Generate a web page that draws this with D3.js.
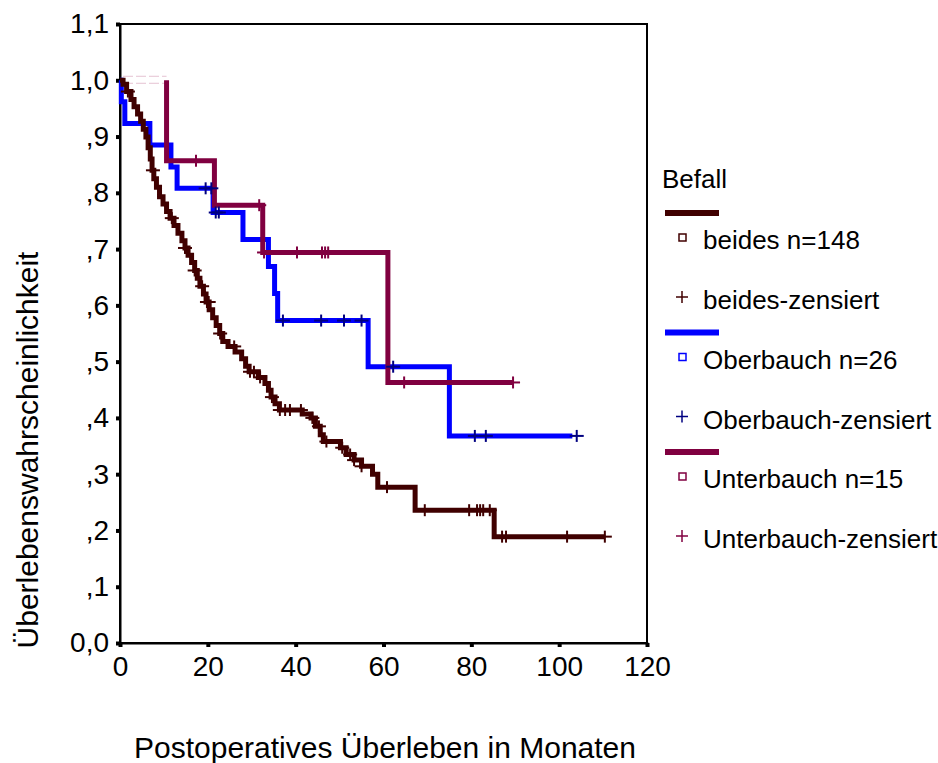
<!DOCTYPE html>
<html>
<head>
<meta charset="utf-8">
<script src="https://cdn.jsdelivr.net/npm/d3@7"></script>
<style>
  body { margin: 0; background: #fff; }
  svg text { font-family: Arial, "Liberation Sans", sans-serif; fill: #000; }
</style>
</head>
<body>
<div id="chart"></div>
<script>
// Kaplan-Meier steps (months, survival)
var beidesTime = [0, 0.7, 1.5, 2.5, 3.2, 4.0, 4.7, 5.3, 5.9, 6.4, 6.9, 7.3, 7.7, 8.3, 9.0, 9.8, 10.6, 11.4, 12.3, 13.2, 14.1, 14.8, 15.5, 16.3, 17.0, 17.6, 18.2, 19.0, 19.6, 20.3, 21.1, 21.9, 22.7, 23.4, 24.6, 26.2, 27.7, 28.6, 29.4, 31.5, 33.0, 33.8, 34.4, 35.3, 36.3, 41.5, 43.5, 44.5, 45.6, 46.3, 50.2, 51.5, 53.3, 55.0, 57.5, 58.7, 67.2, 85.2, 110.5]
var beidesSurv = [1, 0.993, 0.98, 0.966, 0.953, 0.94, 0.927, 0.913, 0.899, 0.88, 0.86, 0.84, 0.825, 0.81, 0.793, 0.78, 0.767, 0.755, 0.742, 0.728, 0.715, 0.702, 0.689, 0.676, 0.662, 0.648, 0.634, 0.62, 0.606, 0.592, 0.578, 0.564, 0.55, 0.536, 0.527, 0.517, 0.505, 0.492, 0.482, 0.472, 0.461, 0.449, 0.437, 0.425, 0.414, 0.407, 0.4, 0.385, 0.37, 0.358, 0.347, 0.335, 0.325, 0.314, 0.3, 0.277, 0.236, 0.189, 0.189]
var beidesCens = [1.8, 7.5, 11.8, 14.8, 17, 18.7, 19.8, 20.2, 22.8, 26, 29.6, 30.5, 31.9, 34.6, 36.4, 37.6, 38.7, 41.2, 43.8, 45.3, 47.0, 50.6, 52.4, 53.3, 55.0, 60.8, 69.4, 79.5, 81.3, 82.0, 82.7, 84.2, 87.0, 87.9, 101.8, 110.4]

var oberTime = [0, 0.3, 1.1, 6.8, 11.6, 13.0, 21.2, 28.0, 33.8, 35.2, 35.9, 56.5, 75.0, 103]
var oberSurv = [1, 0.962, 0.923, 0.885, 0.846, 0.808, 0.765, 0.717, 0.669, 0.621, 0.573, 0.491, 0.368, 0.368]
var oberCens = [19.5, 20.8, 21.8, 22.5, 37.1, 45.8, 51.0, 55.0, 62.2, 80.8, 83.3, 104]

var unterTime = [0, 10.6, 21.5, 32.5, 61.0, 89.5]
var unterSurv = [1, 0.857, 0.778, 0.694, 0.463, 0.463]
var unterCens = [17.3, 31.7, 32.8, 40.3, 46.0, 46.7, 47.4, 64.7, 89.5]

var xTicks = [0, 20, 40, 60, 80, 100, 120]
var yTicks = [0, 0.1, 0.2, 0.3, 0.4, 0.5, 0.6, 0.7, 0.8, 0.9, 1.0, 1.1]
var yTickLabels = ["0,0", ",1", ",2", ",3", ",4", ",5", ",6", ",7", ",8", ",9", "1,0", "1,1"]

var legendTitle = "Befall"
var legendLabels = ["beides n=148", "beides-zensiert", "Oberbauch n=26", "Oberbauch-zensiert", "Unterbauch n=15", "Unterbauch-zensiert"]

var width = 938, height = 763

var svg = d3.select("#chart").append("svg")
    .attr("width", width)
    .attr("height", height)

var x = d3.scaleLinear().domain([0, 120]).range([120, 647])
var y = d3.scaleLinear().domain([0, 1.1]).range([643, 24])

// frame
svg.append("rect")
    .attr("x", x(0)).attr("y", y(1.1))
    .attr("width", x(120) - x(0)).attr("height", y(0) - y(1.1))
    .attr("fill", "none").attr("stroke", "#000").attr("stroke-width", 2)

var yAxis = d3.axisLeft(y)
    .tickValues(yTicks)
    .tickFormat((d, i) => yTickLabels[i])
    .tickSize(4).tickPadding(7)
var xAxis = d3.axisBottom(x)
    .tickValues(xTicks)
    .tickSize(4).tickPadding(9)

var gy = svg.append("g").attr("transform", "translate(" + x(0) + ",0)").call(yAxis)
var gx = svg.append("g").attr("transform", "translate(0," + y(0) + ")").call(xAxis)
;[gx, gy].forEach(g => {
    g.select(".domain").attr("stroke-width", 2)
    g.selectAll(".tick line").attr("stroke-width", 4)
    g.selectAll(".tick text").style("font-size", "28px")
})

svg.append("text")
    .attr("x", 385).attr("y", 758)
    .attr("text-anchor", "middle")
    .style("font-size", "30px")
    .text("Postoperatives Überleben in Monaten")

svg.append("text")
    .attr("transform", "translate(38,450) rotate(-90)")
    .attr("text-anchor", "middle")
    .style("font-size", "30px")
    .text("Überlebenswahrscheinlichkeit")

function toPoints(times, surv) {
    return times.map((t, i) => ({ t: t, s: surv[i] }))
}
function survAt(times, surv, t) {
    var s = surv[0]
    for (var i = 0; i < times.length; i++) { if (times[i] <= t) s = surv[i] }
    return s
}

var step = d3.line()
    .x(d => x(d.t)).y(d => y(d.s))
    .curve(d3.curveStepAfter)

var series = [
    { name: "ober", times: oberTime, surv: oberSurv, cens: oberCens, color: "#0000ff", mark: "#000080" },
    { name: "beides", times: beidesTime, surv: beidesSurv, cens: beidesCens, color: "#400000", mark: "#400000" },
    { name: "unter", times: unterTime, surv: unterSurv, cens: unterCens, color: "#800040", mark: "#800040" }
]

// faint outline of the Unterbauch start segment at 1,0
svg.append("g").selectAll("line")
    .data([-4, 3])
    .join("line")
    .attr("x1", x(unterTime[0]) + 3).attr("x2", x(unterTime[1]))
    .attr("y1", d => y(unterSurv[0]) + d).attr("y2", d => y(unterSurv[0]) + d)
    .attr("stroke", "#e6c2d2").attr("stroke-width", 1)
    .attr("stroke-dasharray", "10,3")

series.forEach(sr => {
    var pts = toPoints(sr.times, sr.surv)
    if (sr.name === "unter") pts = [{ t: sr.times[1], s: sr.surv[0] }].concat(pts.slice(1))
    svg.append("path")
        .datum(pts)
        .attr("d", step)
        .attr("fill", "none")
        .attr("stroke", sr.color)
        .attr("stroke-width", 5)
        .attr("stroke-linejoin", "miter")
})

series.forEach(sr => {
    var g = svg.append("g")
    var marks = g.selectAll("g.cens")
        .data(sr.cens.map(t => ({ t: t, s: survAt(sr.times, sr.surv, t) })))
        .join("g")
        .attr("transform", d => "translate(" + x(d.t) + "," + y(d.s) + ")")
    marks.append("line").attr("x1", -7).attr("x2", 7).attr("y1", 0).attr("y2", 0)
        .attr("stroke", sr.mark).attr("stroke-width", 2)
    marks.append("line").attr("x1", 0).attr("x2", 0).attr("y1", -6).attr("y2", 6)
        .attr("stroke", sr.mark).attr("stroke-width", 2)
})

// legend
var lg = svg.append("g").attr("transform", "translate(662,0)")
lg.append("text").attr("x", 0).attr("y", 188).style("font-size", "26px").text(legendTitle)

series.slice().sort((a, b) => ["beides", "ober", "unter"].indexOf(a.name) - ["beides", "ober", "unter"].indexOf(b.name))
    .forEach((sr, i) => {
        var base = 213 + i * 119.5
        lg.append("line")
            .attr("x1", 3).attr("x2", 57).attr("y1", base).attr("y2", base)
            .attr("stroke", sr.color).attr("stroke-width", 6)
        lg.append("rect")
            .attr("x", 17).attr("y", base + 21).attr("width", 7).attr("height", 7)
            .attr("fill", "none").attr("stroke", sr.color).attr("stroke-width", 1.5)
        lg.append("text").attr("x", 41).attr("y", base + 36)
            .style("font-size", "26px").text(legendLabels[i * 2])
        lg.append("line").attr("x1", 14).attr("x2", 26).attr("y1", base + 84).attr("y2", base + 84)
            .attr("stroke", sr.mark).attr("stroke-width", 1.5)
        lg.append("line").attr("x1", 20).attr("x2", 20).attr("y1", base + 78).attr("y2", base + 90)
            .attr("stroke", sr.mark).attr("stroke-width", 1.5)
        lg.append("text").attr("x", 41).attr("y", base + 96)
            .style("font-size", "26px").text(legendLabels[i * 2 + 1])
    })
</script>
</body>
</html>
